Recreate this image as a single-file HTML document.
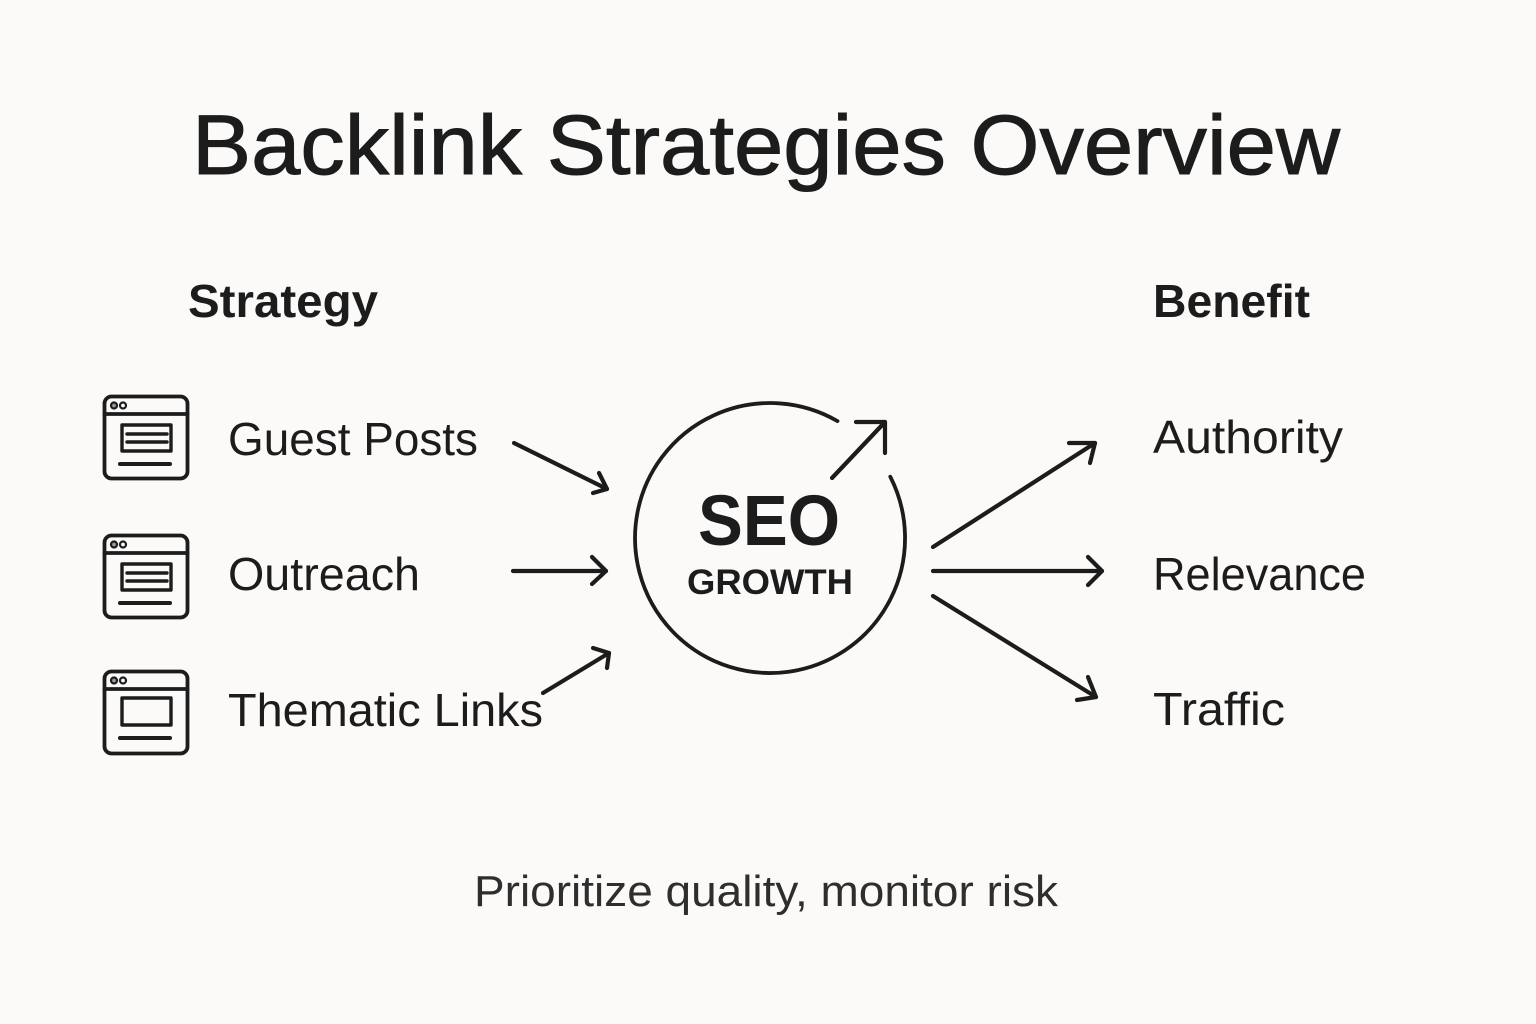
<!DOCTYPE html>
<html>
<head>
<meta charset="utf-8">
<style>
  html,body{margin:0;padding:0;background:#fbfaf8;}
  svg{display:block;}
  text{font-family:"Liberation Sans",Arial,sans-serif;fill:#1c1c1c;}
</style>
</head>
<body>
<svg width="1536" height="1024" viewBox="0 0 1536 1024" xmlns="http://www.w3.org/2000/svg">
  <rect width="1536" height="1024" fill="#fbfaf8"/>

  <!-- Title -->
  <text x="192" y="174" font-size="84" textLength="1148" lengthAdjust="spacingAndGlyphs" stroke="#1c1c1c" stroke-width="1">Backlink Strategies Overview</text>

  <!-- Column headers -->
  <text x="188" y="317" font-size="46" font-weight="bold" textLength="190" lengthAdjust="spacingAndGlyphs">Strategy</text>
  <text x="1153" y="317" font-size="46" font-weight="bold" textLength="157" lengthAdjust="spacingAndGlyphs">Benefit</text>

  <!-- Icons -->
  <g fill="none" stroke="#1c1c1c" stroke-width="3.8" stroke-linecap="round" stroke-linejoin="round">
    <!-- Icon 1 -->
    <g>
      <rect x="104.5" y="396.5" width="83" height="82" rx="7"/>
      <line x1="104.5" y1="414" x2="187.5" y2="414"/>
      <circle cx="114" cy="405.5" r="3" fill="#999" stroke-width="2.2"/>
      <circle cx="123" cy="405.5" r="3" stroke-width="2.2"/>
      <rect x="122" y="425" width="49" height="26" stroke-width="3.4"/>
      <line x1="127" y1="434" x2="167" y2="434" stroke-width="3.4"/>
      <line x1="127" y1="442" x2="167" y2="442" stroke-width="3.4"/>
      <line x1="120" y1="464" x2="170" y2="464" stroke-width="4"/>
    </g>
    <!-- Icon 2 -->
    <g transform="translate(0,139)">
      <rect x="104.5" y="396.5" width="83" height="82" rx="7"/>
      <line x1="104.5" y1="414" x2="187.5" y2="414"/>
      <circle cx="114" cy="405.5" r="3" fill="#999" stroke-width="2.2"/>
      <circle cx="123" cy="405.5" r="3" stroke-width="2.2"/>
      <rect x="122" y="425" width="49" height="26" stroke-width="3.4"/>
      <line x1="127" y1="434" x2="167" y2="434" stroke-width="3.4"/>
      <line x1="127" y1="442" x2="167" y2="442" stroke-width="3.4"/>
      <line x1="120" y1="464" x2="170" y2="464" stroke-width="4"/>
    </g>
    <!-- Icon 3 -->
    <g transform="translate(0,275)">
      <rect x="104.5" y="396.5" width="83" height="82" rx="7"/>
      <line x1="104.5" y1="414" x2="187.5" y2="414"/>
      <circle cx="114" cy="405.5" r="3" fill="#999" stroke-width="2.2"/>
      <circle cx="123" cy="405.5" r="3" stroke-width="2.2"/>
      <rect x="122" y="423" width="49" height="27" stroke-width="3.4"/>
      <line x1="120" y1="463" x2="170" y2="463" stroke-width="4"/>
    </g>
  </g>

  <!-- Strategy labels -->
  <text x="228" y="455" font-size="46" textLength="250" lengthAdjust="spacingAndGlyphs">Guest Posts</text>
  <text x="228" y="590" font-size="46" textLength="192" lengthAdjust="spacingAndGlyphs">Outreach</text>
  <text x="228" y="726" font-size="46" textLength="315" lengthAdjust="spacingAndGlyphs">Thematic Links</text>

  <!-- Benefit labels -->
  <text x="1153" y="453" font-size="46" textLength="190" lengthAdjust="spacingAndGlyphs">Authority</text>
  <text x="1153" y="590" font-size="46" textLength="213" lengthAdjust="spacingAndGlyphs">Relevance</text>
  <text x="1153" y="725" font-size="46" textLength="132" lengthAdjust="spacingAndGlyphs">Traffic</text>

  <!-- Arrows -->
  <g fill="none" stroke="#1c1c1c" stroke-width="4.2" stroke-linecap="round" stroke-linejoin="round">
    <!-- left arrows -->
    <line x1="514" y1="443" x2="607" y2="489"/>
    <polyline points="599,473 607,489 593,493"/>
    <line x1="513" y1="571" x2="606" y2="571"/>
    <polyline points="592,557 606,571 592,584"/>
    <line x1="543" y1="693" x2="609" y2="653"/>
    <polyline points="593,648 609,653 607,668"/>

    <!-- right arrows -->
    <line x1="933" y1="547" x2="1095" y2="443"/>
    <polyline points="1069,443 1095,443 1090,463"/>
    <line x1="933" y1="571" x2="1102" y2="571"/>
    <polyline points="1088,557 1102,571 1088,585"/>
    <line x1="933" y1="596" x2="1096" y2="697"/>
    <polyline points="1088,677 1096,697 1077,700"/>

    <!-- circle with gap -->
    <path d="M 890.3 476.7 A 135 135 0 1 1 837.5 421.1" stroke-width="3.8"/>
    <!-- growth arrow -->
    <line x1="832" y1="478" x2="885" y2="422"/>
    <polyline points="856,422 885,422 885,453"/>
  </g>

  <!-- Center text -->
  <text x="698" y="545" font-size="71" font-weight="bold" textLength="142" lengthAdjust="spacingAndGlyphs">SEO</text>
  <text x="687" y="594" font-size="35" font-weight="bold" textLength="166" lengthAdjust="spacingAndGlyphs">GROWTH</text>

  <!-- Footer -->
  <text x="474" y="906" font-size="44" textLength="584" lengthAdjust="spacingAndGlyphs" style="fill:#2e2e2e">Prioritize quality, monitor risk</text>
</svg>
</body>
</html>
